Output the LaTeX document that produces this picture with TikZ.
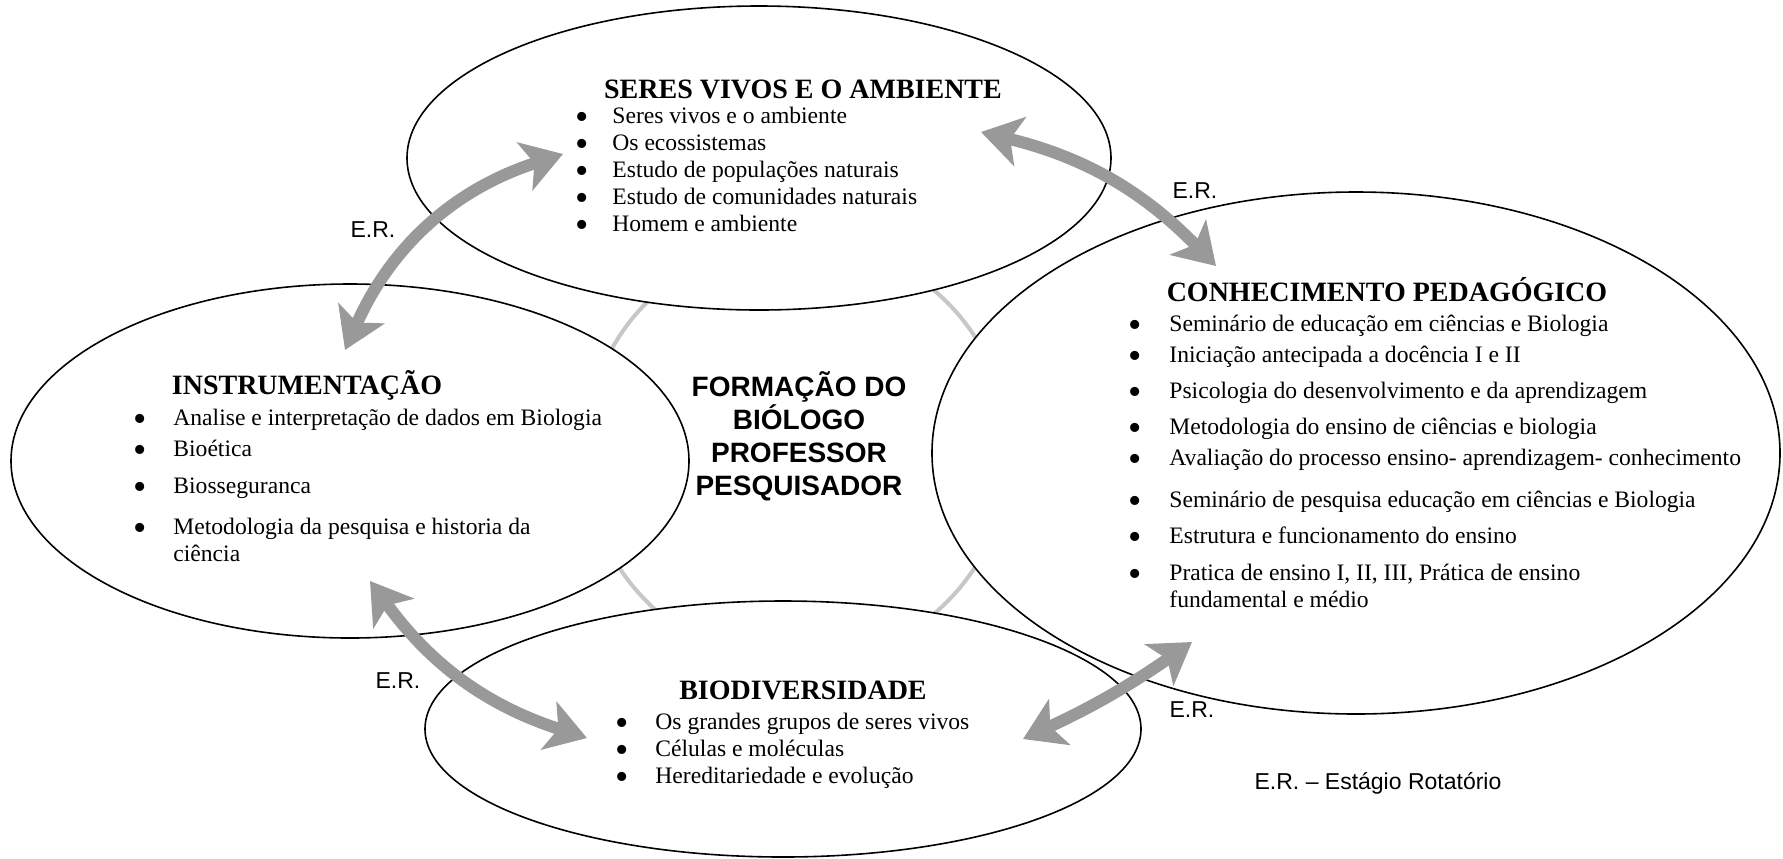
\documentclass[tikz,border=0pt]{standalone}
\usepackage{fontspec}
\setmainfont{Liberation Serif}
\newfontfamily\arialfont{Liberation Sans}
\usetikzlibrary{arrows.meta}
\definecolor{setacinza}{gray}{0.6}
\definecolor{anelcinza}{gray}{0.78}
\newcommand{\marca}{\smash{\raisebox{-3pt}{\fontsize{19}{13.5}\selectfont\textbullet}}}

\begin{document}
\begin{tikzpicture}[x=0.5pt,y=-0.5pt,
  titulo/.style={font=\fontsize{14}{16}\selectfont\bfseries,anchor=base},
  lista/.style={font=\fontsize{11.8}{13.5}\selectfont,anchor=base west,inner sep=0pt},
  er/.style={font=\arialfont\fontsize{11.5}{13}\selectfont},
  seta/.style={draw=setacinza,line width=6pt,
    {Stealth[length=20pt,width=25pt,inset=5pt]}-{Stealth[length=20pt,width=25pt,inset=5pt]}}]
  \useasboundingbox (0,0) rectangle (1783,858);

  % centres of the four areas
  \coordinate (sv) at (759,158);
  \coordinate (ins) at (350,461);
  \coordinate (cp) at (1356,453);
  \coordinate (bio) at (783,729);

  % grey ring behind, then the ellipses
  \draw[anelcinza,line width=2pt] (797,452) circle [radius=212];
  \foreach \c/\rx/\ry in {sv/352/152,ins/339/177,cp/424/261,bio/358/128}
    \fill[white] (\c) ellipse [x radius=\rx,y radius=\ry];
  \foreach \c/\rx/\ry in {sv/352/152,ins/339/177,cp/424/261,bio/358/128}
    \draw[line width=0.8pt] (\c) ellipse [x radius=\rx,y radius=\ry];

  % seres vivos
  \node[titulo] (sv-tit) at (803,98) {SERES VIVOS E O AMBIENTE};
  \node[lista] (sv-lis) at (575,123) {\begin{tabular}[t]{@{}p{18.5pt}@{}l@{}}
    \marca & Seres vivos e o ambiente\\
    \marca & Os ecossistemas\\
    \marca & Estudo de populações naturais\\
    \marca & Estudo de comunidades naturais\\
    \marca & Homem e ambiente
  \end{tabular}};

  % instrumentacao
  \node[titulo] (ins-tit) at (307,394) {INSTRUMENTAÇÃO};
  \node[lista] (ins-lis) at (133,425) {\begin{tabular}[t]{@{}p{20pt}@{}l@{}}
    \marca & Analise e interpretação de dados em Biologia\\[2pt]
    \marca & Bioética\\[5pt]
    \marca & Biosseguranca\\[7pt]
    \marca & Metodologia da pesquisa e historia da\\
    & ciência
  \end{tabular}};

  % conhecimento pedagogico
  \node[titulo] (cp-tit) at (1387,301) {CONHECIMENTO PEDAGÓGICO};
  \node[lista] (cp-lis) at (1128,331) {\begin{tabular}[t]{@{}p{20.5pt}@{}l@{}}
    \marca & Seminário de educação em ciências e Biologia\\[2pt]
    \marca & Iniciação antecipada a docência I e II\\[4.5pt]
    \marca & Psicologia do desenvolvimento e da aprendizagem\\[4.5pt]
    \marca & Metodologia do ensino de ciências e biologia\\[2pt]
    \marca & Avaliação do processo ensino- aprendizagem- conhecimento\\[7.5pt]
    \marca & Seminário de pesquisa educação em ciências e Biologia\\[4.5pt]
    \marca & Estrutura e funcionamento do ensino\\[5pt]
    \marca & Pratica de ensino I, II, III, Prática de ensino\\
    & fundamental e médio
  \end{tabular}};

  % biodiversidade
  \node[titulo] (bio-tit) at (803,699) {BIODIVERSIDADE};
  \node[lista] (bio-lis) at (615,729) {\begin{tabular}[t]{@{}p{20pt}@{}l@{}}
    \marca & Os grandes grupos de seres vivos\\
    \marca & Células e moléculas\\
    \marca & Hereditariedade e evolução
  \end{tabular}};

  % centre
  \node[font=\arialfont\bfseries\fontsize{14}{16.5}\selectfont,align=center]
    (formacao) at (799,436) {FORMAÇÃO DO\\BIÓLOGO\\PROFESSOR\\PESQUISADOR};

  % estagio rotatorio
  \coordinate (sv-o) at (563,154);
  \coordinate (ins-n) at (345,350);
  \coordinate (sv-l) at (981,132);
  \coordinate (cp-n) at (1216,266);
  \coordinate (ins-s) at (370,581);
  \coordinate (bio-o) at (587,738);
  \coordinate (bio-l) at (1023,739);
  \coordinate (cp-s) at (1192,642);
  \draw[seta] (ins-n) to[bend left=24] (sv-o);
  \draw[seta] (sv-l) to[bend left=16] (cp-n);
  \draw[seta] (ins-s) to[bend right=18] (bio-o);
  \draw[seta] (bio-l) to[bend right=5] (cp-s);

  \node[er] (er-1) at (373,230) {E.R.};
  \node[er] (er-2) at (1195,191) {E.R.};
  \node[er] (er-3) at (398,681) {E.R.};
  \node[er] (er-4) at (1192,710) {E.R.};
  \node[er] (legenda) at (1378,783) {E.R. – Estágio Rotatório};
\end{tikzpicture}
\end{document}
